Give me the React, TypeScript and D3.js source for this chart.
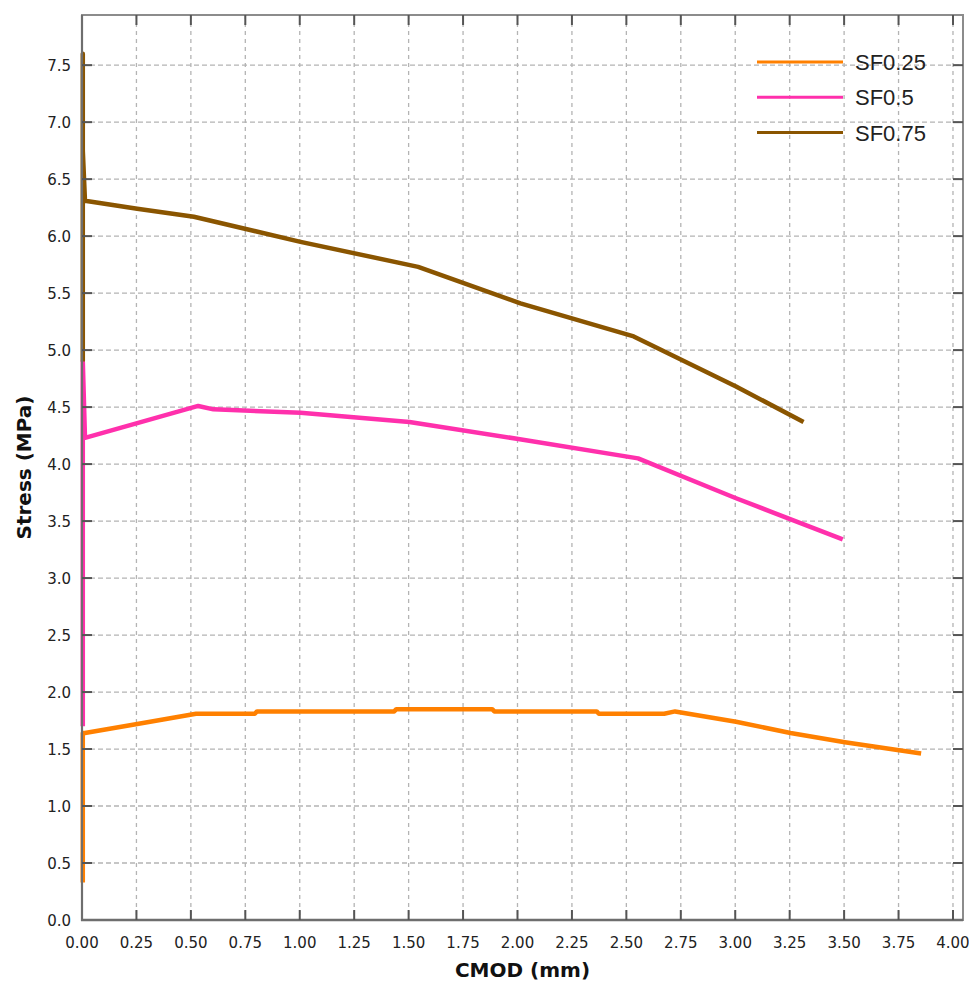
import React from "react";
import * as d3 from "d3";

// CMOD (mm) / stress (MPa)
const sf025X = [0, 0, 0.01, 0.25, 0.52, 0.79, 0.8, 1.43, 1.44, 1.88, 1.89, 2.36, 2.37, 2.67, 2.72, 3.0, 3.25, 3.5, 3.85];
const sf025Y = [0.33, 1.64, 1.64, 1.72, 1.81, 1.81, 1.83, 1.83, 1.85, 1.85, 1.83, 1.83, 1.81, 1.81, 1.83, 1.74, 1.64, 1.56, 1.46];

const sf05X = [0, 0, 0.01, 0.25, 0.53, 0.6, 1.0, 1.5, 2.0, 2.55, 3.0, 3.49];
const sf05Y = [1.7, 4.9, 4.23, 4.36, 4.51, 4.48, 4.45, 4.37, 4.22, 4.05, 3.7, 3.34];

const sf075X = [0, 0, 0, 0.01, 0.25, 0.51, 1.0, 1.54, 2.01, 2.53, 3.0, 3.31];
const sf075Y = [4.9, 7.6, 6.75, 6.31, 6.24, 6.17, 5.95, 5.73, 5.41, 5.12, 4.68, 4.37];

const seriesNames = ["SF0.25", "SF0.5", "SF0.75"];
const seriesColors = ["#ff8000", "#ff30ac", "#8a5500"];

const xTicks = d3.range(0, 17).map((i) => i * 0.25);
const yTicks = d3.range(0, 16).map((i) => i * 0.5);

const W = 969;
const H = 981;
const left = 82;
const right = 963;
const top = 15;
const bottom = 920;

const App = () => {
  const x = d3.scaleLinear().domain([0, 4.046]).range([left, right]);
  const y = d3.scaleLinear().domain([0, 7.94]).range([bottom, top]);

  const series = [
    { name: seriesNames[0], xs: sf025X, ys: sf025Y, color: seriesColors[0] },
    { name: seriesNames[1], xs: sf05X, ys: sf05Y, color: seriesColors[1] },
    { name: seriesNames[2], xs: sf075X, ys: sf075Y, color: seriesColors[2] },
  ];

  const line = d3
    .line<[number, number]>()
    .x((d) => x(d[0]) + 0.8)
    .y((d) => y(d[1]));

  const tickFont = { fontFamily: "DejaVu Sans", fontSize: 15, fill: "#222" };

  return (
    <svg
      width={W}
      height={H}
      style={{ position: "absolute", left: 0, top: 0, background: "#fff" }}
    >
      {/* grid */}
      {xTicks.slice(1).map((t) => (
        <line key={"gx" + t} x1={x(t)} x2={x(t)} y1={top} y2={bottom}
          stroke="#b4b4b4" strokeWidth={1.3} strokeDasharray="4,4" />
      ))}
      {yTicks.slice(1).map((t) => (
        <line key={"gy" + t} x1={left} x2={right} y1={y(t)} y2={y(t)}
          stroke="#b4b4b4" strokeWidth={1.3} strokeDasharray="5,3" />
      ))}

      {/* curves */}
      <g>
        {series.map((s) => (
          <path
            key={s.name}
            d={line(s.xs.map((v, i) => [v, s.ys[i]]) as [number, number][]) || ""}
            fill="none"
            stroke={s.color}
            strokeWidth={4.5}
            strokeLinejoin="round"
            strokeLinecap="butt"
          />
        ))}
      </g>

      {/* frame */}
      <rect x={left} y={top} width={right - left} height={bottom - top}
        fill="none" stroke="#8c8c8c" strokeWidth={2} />
      <line x1={left} x2={left} y1={top} y2={bottom + 1} stroke="#6e6e6e" strokeWidth={2.2} />
      <line x1={left - 1} x2={right} y1={bottom} y2={bottom} stroke="#6e6e6e" strokeWidth={2.5} />

      {/* ticks, inward on all four sides */}
      {xTicks.slice(1).map((t) => (
        <g key={"tx" + t} stroke="#555" strokeWidth={2}>
          <line x1={x(t)} x2={x(t)} y1={bottom} y2={bottom - 10} />
          <line x1={x(t)} x2={x(t)} y1={top} y2={top + 10} />
        </g>
      ))}
      {yTicks.slice(1).map((t) => (
        <g key={"ty" + t} stroke="#555" strokeWidth={2}>
          <line x1={left} x2={left + 10} y1={y(t)} y2={y(t)} />
          <line x1={right} x2={right - 10} y1={y(t)} y2={y(t)} />
        </g>
      ))}

      {/* tick labels */}
      {xTicks.map((t) => (
        <text key={"lx" + t} x={x(t)} y={948} textAnchor="middle" {...tickFont}>
          {t.toFixed(2)}
        </text>
      ))}
      {yTicks.map((t) => (
        <text key={"ly" + t} x={71} y={y(t) + 6} textAnchor="end" {...tickFont}>
          {t.toFixed(1)}
        </text>
      ))}

      {/* axis titles */}
      <text x={(left + right) / 2} y={977} textAnchor="middle"
        fontFamily="DejaVu Sans" fontWeight="bold" fontSize={20} fill="#111">
        CMOD (mm)
      </text>
      <text transform={`translate(31, ${(top + bottom) / 2}) rotate(-90)`} textAnchor="middle"
        fontFamily="DejaVu Sans" fontWeight="bold" fontSize={20} fill="#111">
        Stress (MPa)
      </text>

      {/* legend */}
      {series.map((s, i) => (
        <g key={"lg" + s.name}>
          <line x1={757} x2={843} y1={62 + i * 35.3} y2={62 + i * 35.3} stroke={s.color} strokeWidth={3} />
          <text x={855} y={62 + i * 35.3 + 8} fontFamily="Liberation Sans" fontSize={22} fill="#222">
            {s.name}
          </text>
        </g>
      ))}
    </svg>
  );
};

export default App;
